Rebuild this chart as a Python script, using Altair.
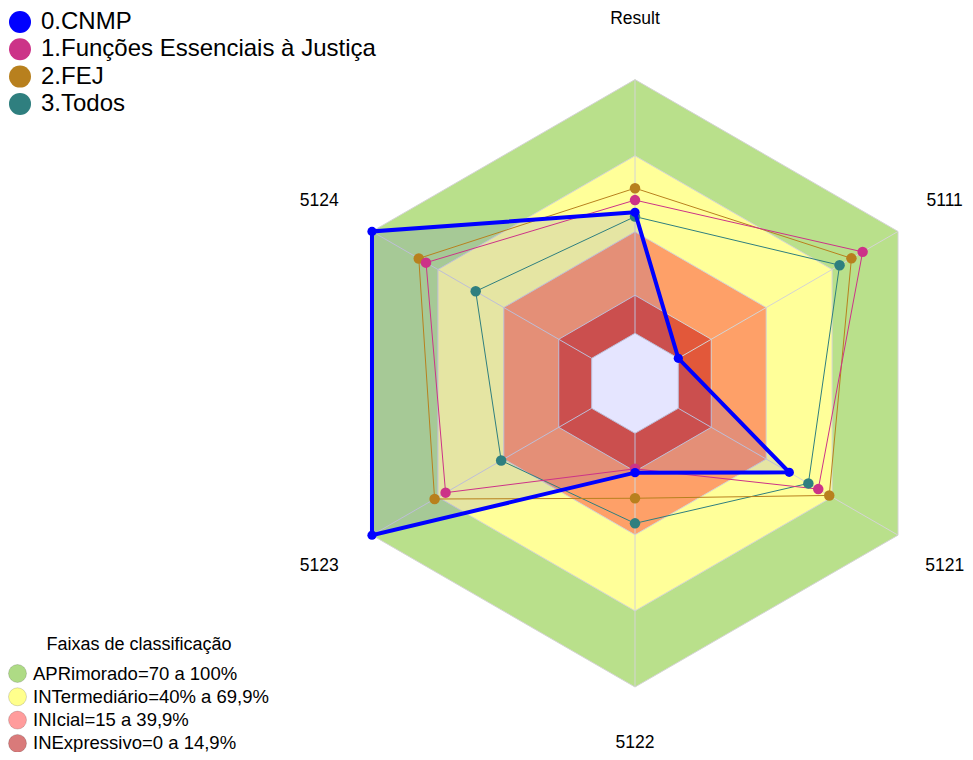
import altair as alt
import pandas as pd

# ---------------- data ----------------
axes_labels = ["Result", "5111", "5121", "5122", "5123", "5124"]
series_names = ["0.CNMP", "1.Funções Essenciais à Justiça", "2.FEJ", "3.Todos"]
series_colors = ["#0000FF", "#CC3388", "#B8801E", "#2F7F7F"]
cnmp = [47.7, 0.0, 50.5, 15.5, 100.0, 100.0]
funcoes = [52.5, 83.9, 63.7, 14.0, 66.5, 75.4]
fej = [57.2, 78.8, 68.7, 25.6, 71.5, 78.7]
todos = [46.0, 73.4, 59.2, 35.5, 41.2, 52.8]

band_tops = [100, 70, 40, 15, 0]
band_fill = ["#B9E08B", "#FFFF99", "#FEA068", "#E2583A", "#FFFFFF"]
legend_labels = ["APRimorado=70 a 100%", "INTermediário=40% a 69,9%",
                 "INIcial=15 a 39,9%", "INExpressivo=0 a 14,9%"]
legend_colors = ["#AEDB85", "#FFFF8C", "#FF9C9C", "#D97A7A"]

# ---------------- geometry (style) ----------------
W, H = 957, 744
PX = 2.537          # pixels per value unit
HOLE = 19.71        # inner empty radius in value units
CX, CY = 627.0, 375.3
XDOM = [-CX / PX, (W - CX) / PX]
YDOM = [-(H - CY) / PX, CY / PX]
LABEL_R = 364.5 / PX - HOLE
FONT = "Liberation Sans"

xs = alt.Scale(domain=XDOM, zero=False, nice=False)
ys = alt.Scale(domain=YDOM, zero=False, nice=False)
X = alt.X("px:Q", scale=xs, axis=None)
Y = alt.Y("py:Q", scale=ys, axis=None)

calc = dict(
    px=f"({HOLE} + datum.value) * sin(datum.idx * PI / 3)",
    py=f"({HOLE} + datum.value) * cos(datum.idx * PI / 3)",
)

# bands table
band_rows = []
for b, top in enumerate(band_tops):
    for k in range(7):
        band_rows.append({"band": b, "k": k, "idx": k % 6, "value": top})
bands_df = pd.DataFrame(band_rows)

# series table
all_series = [cnmp, funcoes, fej, todos]
zorder = [3, 2, 1, 0]
rows = []
for s, vals in enumerate(all_series):
    for k in range(7):
        rows.append({"series": series_names[s], "k": k, "idx": k % 6,
                     "value": vals[k % 6], "z": zorder[s]})
ser_df = pd.DataFrame(rows)

layers = []

# legend-only layer for classification bands (hidden under bands)
leg_df = pd.DataFrame({"label": legend_labels, "idx": 0, "value": -HOLE})
layers.append(
    alt.Chart(leg_df).transform_calculate(**calc).mark_point(filled=True, opacity=1, size=10).encode(
        x=X, y=Y,
        fill=alt.Fill("label:N", sort=legend_labels,
                      scale=alt.Scale(domain=legend_labels, range=legend_colors),
                      legend=alt.Legend(
                          title="Faixas de classificação", orient="none",
                          legendX=0, legendY=628, padding=0,
                          titleFont=FONT, titleFontSize=18, titleFontWeight="normal",
                          titleColor="#000000", titleAnchor="middle", titleAlign="center",
                          titlePadding=10, titleLimit=0, symbolType="circle", symbolSize=324,
                          symbolStrokeColor="rgba(0,0,0,0.15)", symbolStrokeWidth=1,
                          labelFont=FONT, labelFontSize=18.5, labelColor="#000000",
                          labelOffset=6, rowPadding=0.3, labelLimit=0)),
    )
)

# bands
for b, col in enumerate(band_fill):
    layers.append(
        alt.Chart(bands_df).transform_filter(f"datum.band == {b}").transform_calculate(**calc)
        .mark_line(fill=col, stroke="#D4D4D4", strokeWidth=1)
        .encode(x=X, y=Y, order="k:Q")
    )

# spokes
spk = pd.DataFrame({"idx": list(range(6))})
layers.append(
    alt.Chart(spk).transform_calculate(
        px=f"{HOLE} * sin(datum.idx * PI / 3)",
        py=f"{HOLE} * cos(datum.idx * PI / 3)",
        px2=f"({HOLE} + 100) * sin(datum.idx * PI / 3)",
        py2=f"({HOLE} + 100) * cos(datum.idx * PI / 3)",
    ).mark_rule(color="#D4D4D4", strokeWidth=1).encode(x=X, y=Y, x2="px2:Q", y2="py2:Q")
)

# CNMP fill
layers.append(
    alt.Chart(ser_df).transform_filter("datum.z == 3").transform_calculate(**calc)
    .mark_line(fill="#0000FF", fillOpacity=0.1, strokeOpacity=0)
    .encode(x=X, y=Y, order="k:Q")
)

color = alt.Color("series:N", sort=series_names,
                  scale=alt.Scale(domain=series_names, range=series_colors),
                  legend=alt.Legend(title=None, orient="none", legendX=0, legendY=2,
                                    padding=0, symbolType="circle", symbolSize=484,
                                    labelFont=FONT, labelFontSize=24, labelColor="#000000",
                                    labelOffset=9, rowPadding=3.3, labelLimit=0))

# other series lines
for s in [3, 2, 1]:
    layers.append(
        alt.Chart(ser_df).transform_filter(f"datum.z == {zorder[s]}").transform_calculate(**calc)
        .mark_line(color=series_colors[s], strokeWidth=1)
        .encode(x=X, y=Y, order="k:Q")
    )

# other series points
layers.append(
    alt.Chart(ser_df).transform_filter("datum.z < 3 && datum.k < 6").transform_calculate(**calc)
    .mark_point(filled=True, opacity=1, size=110)
    .encode(x=X, y=Y, color=color, order="z:Q")
)

# CNMP line + points
layers.append(
    alt.Chart(ser_df).transform_filter("datum.z == 3").transform_calculate(**calc)
    .mark_line(color=series_colors[0], strokeWidth=4)
    .encode(x=X, y=Y, order="k:Q")
)
layers.append(
    alt.Chart(ser_df).transform_filter("datum.z == 3 && datum.k < 6").transform_calculate(**calc)
    .mark_point(filled=True, opacity=1, size=85)
    .encode(x=X, y=Y, color=color)
)

# axis labels (edge ones nudged to stay inside the page)
lab_df = pd.DataFrame({"label": axes_labels, "idx": list(range(6)), "value": LABEL_R})
text_style = dict(font=FONT, fontSize=17.5, color="#000000", align="center", baseline="middle")
layers.append(
    alt.Chart(lab_df).transform_filter("datum.idx == 0 || datum.idx >= 4").transform_calculate(**calc)
    .mark_text(**text_style)
    .encode(x=X, y=Y, text="label:N")
)
layers.append(
    alt.Chart(lab_df).transform_filter("datum.idx == 1 || datum.idx == 2").transform_calculate(**calc)
    .mark_text(dx=-6, **text_style)
    .encode(x=X, y=Y, text="label:N")
)
layers.append(
    alt.Chart(lab_df).transform_filter("datum.idx == 3").transform_calculate(**calc)
    .mark_text(dy=-5, **text_style)
    .encode(x=X, y=Y, text="label:N")
)

chart = alt.layer(*layers).properties(
    width=W, height=H, padding=0,
    autosize=alt.AutoSizeParams(type="none"),
).configure_view(stroke=None)

chart.save("out.html", embed_options={"renderer": "svg", "actions": False})
